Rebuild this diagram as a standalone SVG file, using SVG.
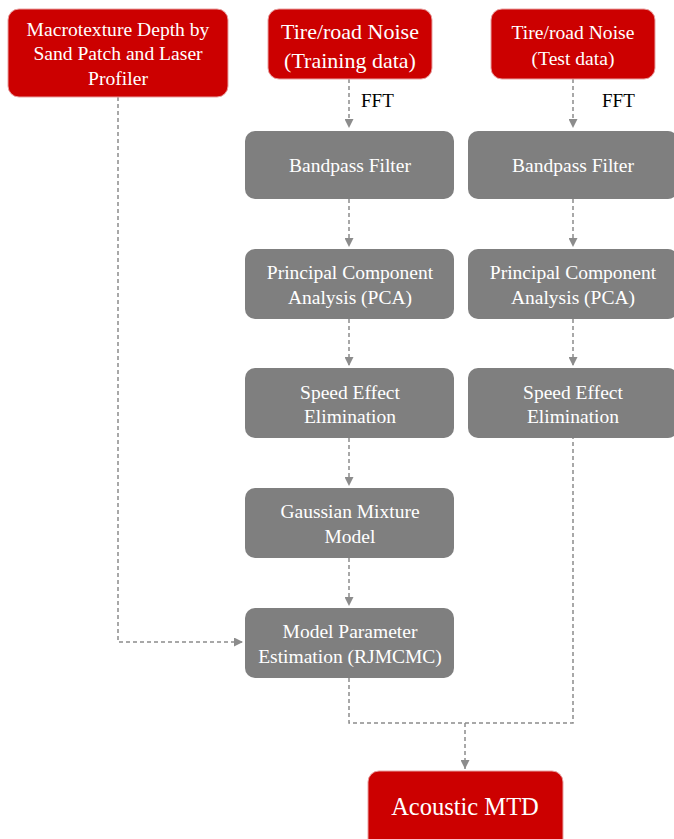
<svg xmlns="http://www.w3.org/2000/svg" width="674" height="839" viewBox="0 0 674 839">
<style>
.red{fill:#CC0000;stroke:#E8A0A0;stroke-width:1}
.gray{fill:#7F7F7F}
.t{font-family:"Liberation Serif","Times New Roman",serif;fill:#fff;text-anchor:middle}
.lbl{font-family:"Liberation Serif","Times New Roman",serif;fill:#000;font-size:19px}
.c{fill:none;stroke:#8C8C8C;stroke-width:1.5;stroke-dasharray:4 3}
</style>
<defs>
<marker id="ah" viewBox="0 0 10 10" refX="10" refY="5" markerWidth="9" markerHeight="9" markerUnits="userSpaceOnUse" orient="auto">
<path d="M0,0 L10,5 L0,10 Z" fill="#8C8C8C"/>
</marker>
</defs>
<g id="connectors">
<path class="c" d="M349,79 V128" marker-end="url(#ah)"/>
<path class="c" d="M573,79 V128" marker-end="url(#ah)"/>
<path class="c" d="M349,199 V247" marker-end="url(#ah)"/>
<path class="c" d="M573,199 V247" marker-end="url(#ah)"/>
<path class="c" d="M349,319 V366" marker-end="url(#ah)"/>
<path class="c" d="M573,319 V366" marker-end="url(#ah)"/>
<path class="c" d="M349,438 V486" marker-end="url(#ah)"/>
<path class="c" d="M349,558 V606" marker-end="url(#ah)"/>
<path class="c" d="M118,97 V642 H243" marker-end="url(#ah)"/>
<path class="c" d="M349,678 V723 H573 V438"/>
<path class="c" d="M465,723 V769" marker-end="url(#ah)"/>
<text class="lbl" x="361" y="107">FFT</text>
<text class="lbl" x="602" y="107">FFT</text>
</g>
<g id="n-macro">
<rect class="red" x="8" y="9" width="220" height="88" rx="11"/>
<text class="t" font-size="19.6"><tspan x="118" y="36">Macrotexture Depth by</tspan><tspan x="118" y="60">Sand Patch and Laser</tspan><tspan x="118" y="85">Profiler</tspan></text>
</g>
<g id="n-train">
<rect class="red" x="268" y="9" width="164" height="70" rx="11"/>
<text class="t" font-size="22"><tspan x="350" y="39">Tire/road Noise</tspan><tspan x="350" y="68">(Training data)</tspan></text>
</g>
<g id="n-test">
<rect class="red" x="491" y="9" width="164" height="70" rx="11"/>
<text class="t" font-size="19.6"><tspan x="573" y="39">Tire/road Noise</tspan><tspan x="573" y="65">(Test data)</tspan></text>
</g>
<g id="n-bp1">
<rect class="gray" x="245" y="131" width="209" height="68" rx="10"/>
<text class="t" font-size="19.5" x="350" y="172">Bandpass Filter</text>
</g>
<g id="n-bp2">
<rect class="gray" x="468" y="131" width="210" height="68" rx="10"/>
<text class="t" font-size="19.5" x="573" y="172">Bandpass Filter</text>
</g>
<g id="n-pca1">
<rect class="gray" x="245" y="249" width="209" height="70" rx="10"/>
<text class="t" font-size="19.5"><tspan x="350" y="279">Principal Component</tspan><tspan x="350" y="304">Analysis (PCA)</tspan></text>
</g>
<g id="n-pca2">
<rect class="gray" x="468" y="249" width="210" height="70" rx="10"/>
<text class="t" font-size="19.5"><tspan x="573" y="279">Principal Component</tspan><tspan x="573" y="304">Analysis (PCA)</tspan></text>
</g>
<g id="n-speed1">
<rect class="gray" x="245" y="368" width="209" height="70" rx="10"/>
<text class="t" font-size="19.5"><tspan x="350" y="399">Speed Effect</tspan><tspan x="350" y="423">Elimination</tspan></text>
</g>
<g id="n-speed2">
<rect class="gray" x="468" y="368" width="210" height="70" rx="10"/>
<text class="t" font-size="19.5"><tspan x="573" y="399">Speed Effect</tspan><tspan x="573" y="423">Elimination</tspan></text>
</g>
<g id="n-gmm">
<rect class="gray" x="245" y="488" width="209" height="70" rx="10"/>
<text class="t" font-size="19.5"><tspan x="350" y="518">Gaussian Mixture</tspan><tspan x="350" y="543">Model</tspan></text>
</g>
<g id="n-rjmcmc">
<rect class="gray" x="245" y="608" width="209" height="70" rx="10"/>
<text class="t" font-size="19.5"><tspan x="350" y="638">Model Parameter</tspan><tspan x="350" y="663">Estimation (RJMCMC)</tspan></text>
</g>
<g id="n-mtd">
<rect class="red" x="368" y="771" width="195" height="90" rx="11"/>
<text class="t" font-size="24.5" x="465" y="815">Acoustic MTD</text>
</g>
</svg>
